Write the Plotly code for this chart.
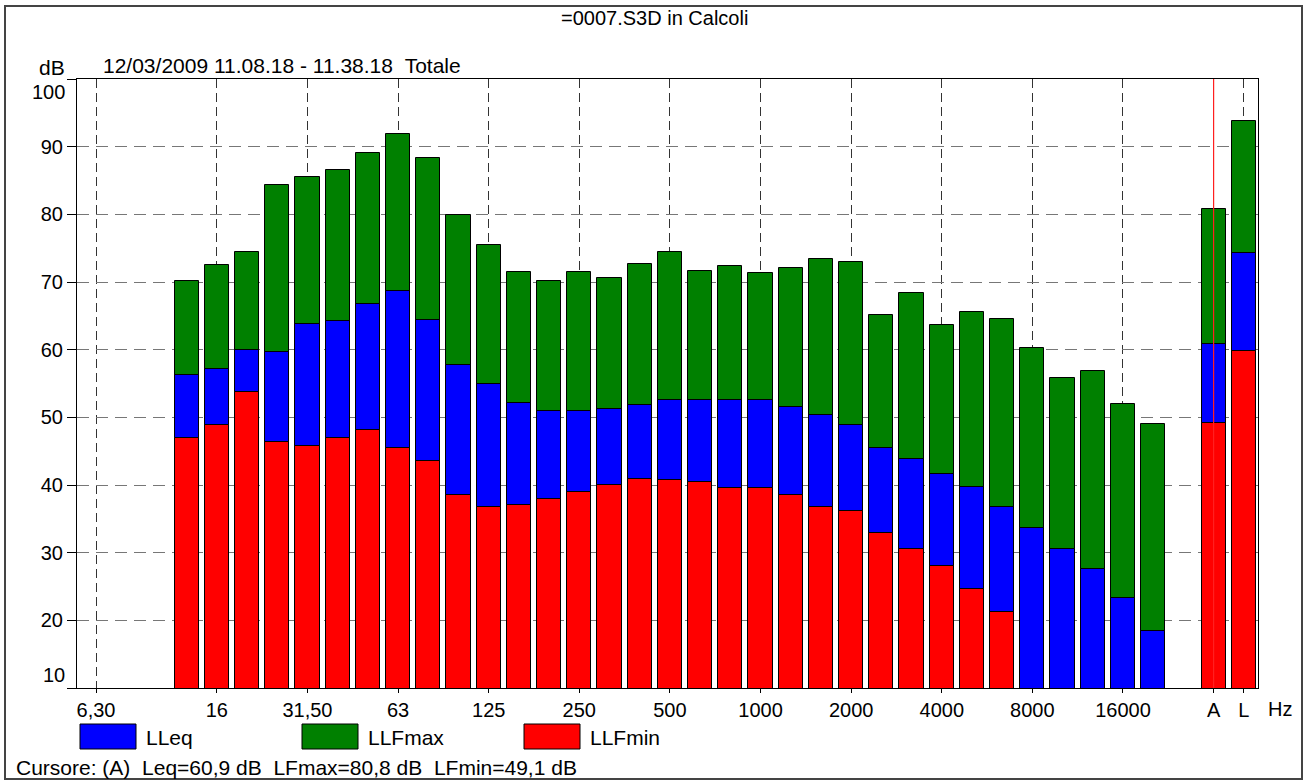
import plotly.graph_objects as go

# third-octave bands on the axis (blank slot before the A / L totals)
axis_bands = ["6,3", "8", "10", "12,5", "16", "20", "25", "31,5", "40", "50", "63", "80",
              "100", "125", "160", "200", "250", "315", "400", "500", "630", "800", "1000",
              "1250", "1600", "2000", "2500", "3150", "4000", "5000", "6300", "8000",
              "10000", "12500", "16000", "20000", " ", "A", "L"]

bands = ["12,5", "16", "20", "25", "31,5", "40", "50", "63", "80", "100", "125", "160",
         "200", "250", "315", "400", "500", "630", "800", "1000", "1250", "1600", "2000",
         "2500", "3150", "4000", "5000", "6300", "8000", "10000", "12500", "16000", "20000",
         "A", "L"]

llfmax = [70.2, 72.5, 74.5, 84.3, 85.5, 86.5, 89.0, 91.9, 88.3, 79.9, 75.4, 71.5,
          70.2, 71.5, 70.6, 72.7, 74.4, 71.7, 72.3, 71.3, 72.1, 73.4, 72.9,
          65.1, 68.4, 63.6, 65.6, 64.6, 60.2, 55.8, 56.9, 52.0, 49.0,
          80.8, 93.8]
lleq = [56.2, 57.2, 60.0, 59.6, 63.8, 64.3, 66.8, 68.6, 64.4, 57.7, 55.0, 52.1,
        50.9, 51.0, 51.2, 51.8, 52.6, 52.6, 52.5, 52.6, 51.6, 50.3, 48.8,
        45.5, 43.8, 41.6, 39.7, 36.8, 33.6, 30.6, 27.6, 23.3, 18.4,
        60.9, 74.3]
llfmin = [46.9, 48.9, 53.8, 46.4, 45.8, 47.0, 48.2, 45.4, 43.5, 38.5, 36.8, 37.1,
          38.0, 38.9, 40.0, 40.9, 40.7, 40.4, 39.5, 39.5, 38.5, 36.8, 36.1,
          32.9, 30.5, 28.1, 24.7, 21.2, None, None, None, None, None,
          49.1, 59.8]

tick_bands = ["6,3", "16", "31,5", "63", "125", "250", "500", "1000", "2000", "4000",
              "8000", "16000", "A", "L"]
tick_text = ["6,30", "16", "31,50", "63", "125", "250", "500", "1000", "2000", "4000",
             "8000", "16000", "A", "L"]
y_ticks = [10, 20, 30, 40, 50, 60, 70, 80, 90, 100]

FONT = "Arial, Liberation Sans, sans-serif"

# plot box in pixels
L, R, T, B = 77, 1258, 79, 688
def px(x):
    return (x - L) / (R - L)
def py(y):
    return (B - y) / (B - T)

fig = go.Figure()
# register all axis slots
fig.add_trace(go.Scatter(x=axis_bands, y=[None] * len(axis_bands), mode="lines",
                         showlegend=False, hoverinfo="skip"))

for name, vals, col in [("LLFmax", llfmax, "#008000"),
                        ("LLeq", lleq, "#0000FF"),
                        ("LLFmin", llfmin, "#FF0000")]:
    fig.add_trace(go.Bar(x=bands, y=vals, name=name, width=0.8,
                         marker=dict(color=col, line=dict(color="black", width=1)),
                         showlegend=False))

fig.update_layout(
    width=1307, height=781,
    margin=dict(l=L, r=1307 - R, t=T, b=781 - B),
    paper_bgcolor="white", plot_bgcolor="white",
    barmode="overlay", bargap=0,
    font=dict(family=FONT, size=20, color="black"),
)

fig.update_xaxes(type="category", categoryorder="array", categoryarray=axis_bands,
                 range=[-0.63, 38.47],
                 tickmode="array", tickvals=tick_bands, ticktext=tick_text,
                 showgrid=True, gridcolor="#333333", griddash="9px,5px", gridwidth=1,
                 showline=True, linecolor="black", linewidth=1, mirror=True,
                 ticks="outside", ticklen=4, tickcolor="black",
                 tickfont=dict(size=20), zeroline=False)

fig.update_yaxes(range=[10, 100], tickmode="array", tickvals=y_ticks,
                 ticktext=["" if v in (10, 100) else str(v) for v in y_ticks],
                 showgrid=True, gridcolor="#777777", griddash="12px,7px", gridwidth=1,
                 showline=True, linecolor="black", linewidth=1, mirror=True,
                 ticks="outside", ticklen=9, tickcolor="black",
                 tickfont=dict(size=20), zeroline=False)

ann = []
# end labels of the y axis, pulled inside the box
ann.append(dict(x=px(67), y=100, xref="paper", yref="y", text="100", showarrow=False,
                xanchor="right", yanchor="top", font=dict(size=20)))
ann.append(dict(x=px(67), y=10, xref="paper", yref="y", text="10", showarrow=False,
                xanchor="right", yanchor="bottom", font=dict(size=20)))
ann.append(dict(x=px(654), y=py(18), xref="paper", yref="paper", text="=0007.S3D in Calcoli",
                showarrow=False, xanchor="center", yanchor="middle", font=dict(size=20)))
ann.append(dict(x=px(67), y=py(67), xref="paper", yref="paper", text="dB",
                showarrow=False, xanchor="right", yanchor="middle", font=dict(size=21)))
ann.append(dict(x=px(101), y=py(66), xref="paper", yref="paper",
                text="12/03/2009 11.08.18 - 11.38.18&nbsp;&nbsp;Totale",
                showarrow=False, xanchor="left", yanchor="middle", font=dict(size=21)))
ann.append(dict(x=px(1280), y=py(709), xref="paper", yref="paper", text="Hz",
                showarrow=False, xanchor="center", yanchor="middle", font=dict(size=20)))
ann.append(dict(x=px(14), y=py(767), xref="paper", yref="paper",
                text="Cursore: (A)&nbsp;&nbsp;Leq=60,9 dB&nbsp;&nbsp;LFmax=80,8 dB&nbsp;&nbsp;LFmin=49,1 dB",
                showarrow=False, xanchor="left", yanchor="middle", font=dict(size=21)))

shapes = []
# legend boxes
for x0, label, col in [(80, "LLeq", "#0000FF"), (302, "LLFmax", "#008000"),
                       (524, "LLFmin", "#FF0000")]:
    shapes.append(dict(type="rect", xref="paper", yref="paper",
                       x0=px(x0), x1=px(x0 + 56), y0=py(749), y1=py(724),
                       fillcolor=col, line=dict(color="black", width=1)))
    ann.append(dict(x=px(x0 + 64), y=py(737), xref="paper", yref="paper", text=label,
                    showarrow=False, xanchor="left", yanchor="middle", font=dict(size=21)))

# cursor line on A
a_idx = axis_bands.index("A")
shapes.append(dict(type="line", xref="x", yref="paper", x0=a_idx, x1=a_idx, y0=0, y1=1,
                   line=dict(color="#FF2020", width=1.2), layer="above"))
# outer frame
shapes.append(dict(type="rect", xref="paper", yref="paper",
                   x0=px(5), x1=px(1302), y0=py(779), y1=py(6),
                   line=dict(color="#444444", width=2), fillcolor="rgba(0,0,0,0)"))

fig.update_layout(annotations=ann, shapes=shapes)

fig.write_html("out.html", config={"displayModeBar": False},
               post_script="document.body.style.margin='0';")
